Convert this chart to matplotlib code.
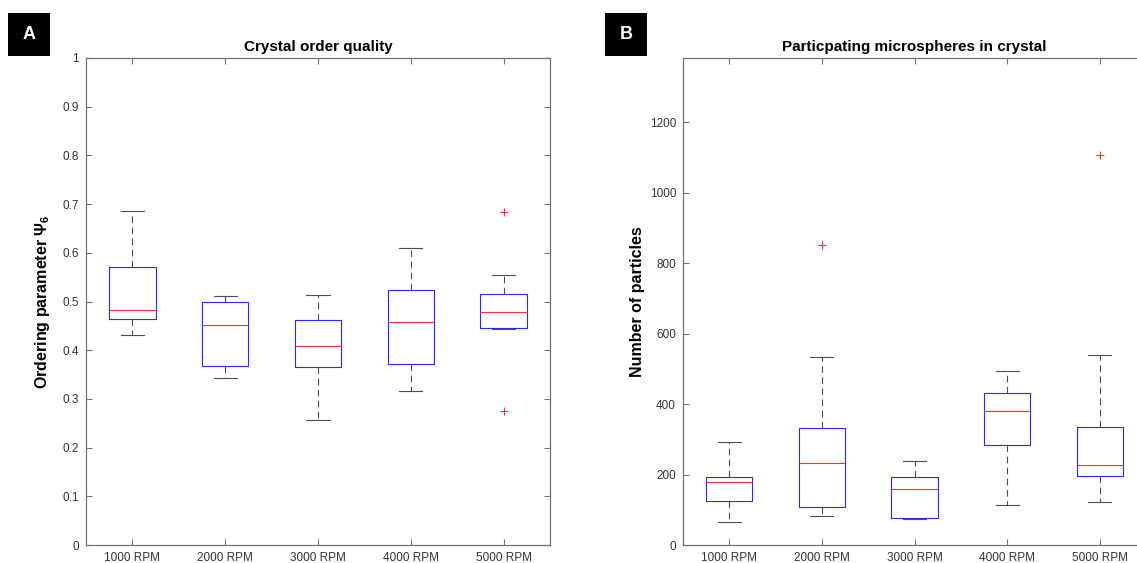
import matplotlib
matplotlib.use('Agg')
import matplotlib.pyplot as plt
from matplotlib.patches import Rectangle

plt.rcParams['font.family'] = ['Liberation Sans', 'DejaVu Sans']
plt.rcParams['mathtext.fontset'] = 'custom'
plt.rcParams['mathtext.rm'] = 'Liberation Sans'
plt.rcParams['mathtext.bf'] = 'Liberation Sans:bold'

# data
labels = ['1000 RPM', '2000 RPM', '3000 RPM', '4000 RPM', '5000 RPM']

# panel A: ordering parameter psi_6
psi_low = [0.432, 0.342, 0.256, 0.316, 0.444]
psi_q1 = [0.465, 0.368, 0.366, 0.372, 0.445]
psi_med = [0.483, 0.451, 0.408, 0.458, 0.478]
psi_q3 = [0.571, 0.500, 0.461, 0.524, 0.515]
psi_high = [0.686, 0.511, 0.513, 0.610, 0.555]
psi_out = [[], [], [], [], [0.683, 0.275]]

# panel B: number of particles
n_low = [64, 82, 73, 114, 123]
n_q1 = [126, 107, 78, 283, 197]
n_med = [180, 233, 158, 379, 226]
n_q3 = [194, 333, 194, 432, 335]
n_high = [293, 534, 238, 495, 540]
n_out = [[], [852], [], [], [1107]]

AX_COL = '0.45'
TXT_COL = '0.2'


def make_stats(low, q1, med, q3, high, outs):
    stats = []
    for i in range(len(labels)):
        stats.append(dict(whislo=low[i], q1=q1[i], med=med[i], q3=q3[i],
                          whishi=high[i], fliers=outs[i], label=labels[i]))
    return stats


def draw_panel(ax, stats, ylim, yticks, yticklabels, title, ylabel, lab_x):
    ax.bxp(stats, widths=0.5, showfliers=True,
           boxprops=dict(color='#2a2aff', linewidth=0.8),
           medianprops=dict(color='#ff3030', linewidth=0.8),
           whiskerprops=dict(color='0.3', linestyle=(0, (6, 4)), linewidth=0.8),
           capprops=dict(color='0.3', linewidth=0.8),
           flierprops=dict(marker='+', markeredgecolor='red', markersize=5.5,
                           markeredgewidth=0.6, linestyle='none'))
    ax.set_xlim(0.5, 5.5)
    ax.set_ylim(*ylim)
    ax.set_yticks(yticks)
    ax.set_yticklabels(yticklabels)
    ax.tick_params(direction='in', length=4, width=0.8, color=AX_COL,
                   labelcolor=TXT_COL, labelsize=8.5, top=True, right=True, pad=5)
    for s in ax.spines.values():
        s.set_color(AX_COL)
        s.set_linewidth(0.9)
    ax.set_title(title, fontsize=11, fontweight='bold', pad=5)
    ax.set_ylabel(ylabel, fontsize=11.5, fontweight='bold')
    ax.yaxis.set_label_coords(lab_x, 0.5)


fig = plt.figure(figsize=(11.37, 5.63), dpi=100)

axA = fig.add_axes([86 / 1137, 18 / 563, 464 / 1137, 487 / 563])
draw_panel(axA, make_stats(psi_low, psi_q1, psi_med, psi_q3, psi_high, psi_out),
           (0, 1), [i / 10 for i in range(11)],
           ['0'] + ['0.%d' % i for i in range(1, 10)] + ['1'],
           'Crystal order quality', r'Ordering parameter $\mathbf{\Psi_6}$',
           (52 - 86) / 464)

axB = fig.add_axes([683 / 1137, 18 / 563, 463 / 1137, 487 / 563])
draw_panel(axB, make_stats(n_low, n_q1, n_med, n_q3, n_high, n_out),
           (0, 1382), [0, 200, 400, 600, 800, 1000, 1200],
           ['0', '200', '400', '600', '800', '1000', '1200'],
           'Particpating microspheres in crystal', 'Number of particles',
           (645 - 683) / 463)

# panel letters in black squares
for x0, letter in [(8, 'A'), (605, 'B')]:
    fig.patches.append(Rectangle((x0 / 1137, 1 - 56 / 563), 42 / 1137, 43 / 563,
                                 transform=fig.transFigure, facecolor='black',
                                 edgecolor='none'))
    fig.text((x0 + 21) / 1137, 1 - 34.5 / 563, letter, color='white',
             fontsize=13, fontweight='bold', ha='center', va='center')

fig.savefig('out.png', dpi=100)
